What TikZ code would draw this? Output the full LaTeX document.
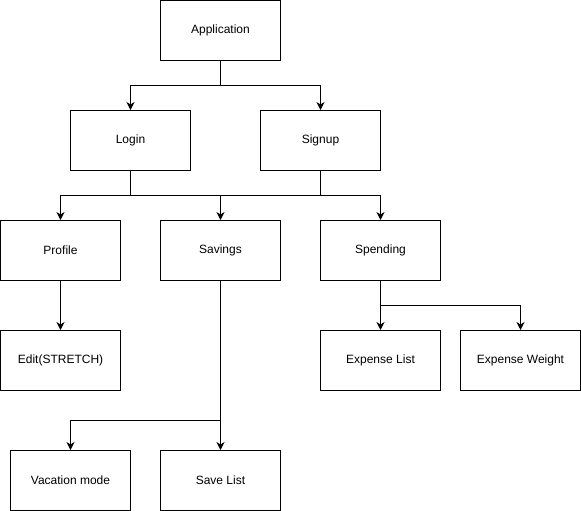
\documentclass[tikz,border=0pt]{standalone}
\usepackage{fontspec}
\setmainfont{Liberation Sans}
\usetikzlibrary{arrows.meta}
\begin{document}
\begin{tikzpicture}[x=1pt,y=-1pt,
  box/.style={draw=black,line width=1pt,fill=white,minimum width=120pt,minimum height=60pt,
    inner sep=0pt,font=\fontsize{12}{14}\selectfont},
  link/.style={draw=black,line width=1pt},
  arr/.style={link,-{Stealth[length=8pt,width=8pt,inset=2.5pt]}}]
\useasboundingbox (0,0) rectangle (581,511);
% boxes
\node[box] (app) at (220.5,30.5) {Application};
\node[box] (login) at (130.5,140.5) {Login};
\node[box] (signup) at (320.5,140.5) {Signup};
\node[box] (profile) at (60.5,250.5) {Profile};
\node[box] (savings) at (220.5,250.5) {Savings};
\node[box] (spending) at (380.5,250.5) {Spending};
\node[box] (edit) at (60.5,360.5) {Edit(STRETCH)};
\node[box] (elist) at (380.5,360.5) {Expense List};
\node[box] (eweight) at (520.5,360.5) {Expense Weight};
\node[box] (vacation) at (70.5,480.5) {Vacation mode};
\node[box] (savelist) at (220.5,480.5) {Save List};
% junction points on the bus lines
\coordinate (j1) at (220.5,85.5);
\coordinate (j2) at (220.5,195.5);
\coordinate (j3) at (380.5,305.5);
\coordinate (j4) at (220.5,420.5);
% application -> login / signup
\draw[link] (app.south) -- (j1);
\draw[arr] (j1) -| (login.north);
\draw[arr] (j1) -| (signup.north);
% login, signup -> profile / savings / spending
\draw[link] (login.south) |- (j2);
\draw[link] (signup.south) |- (j2);
\draw[arr] (j2) -| (profile.north);
\draw[arr] (j2) -- (savings.north);
\draw[arr] (j2) -| (spending.north);
% profile -> edit
\draw[arr] (profile.south) -- (edit.north);
% spending -> expense list / weight
\draw[link] (spending.south) -- (j3);
\draw[arr] (j3) -- (elist.north);
\draw[arr] (j3) -| (eweight.north);
% savings -> vacation mode / save list
\draw[link] (savings.south) -- (j4);
\draw[arr] (j4) -| (vacation.north);
\draw[arr] (j4) -- (savelist.north);
\end{tikzpicture}
\end{document}
